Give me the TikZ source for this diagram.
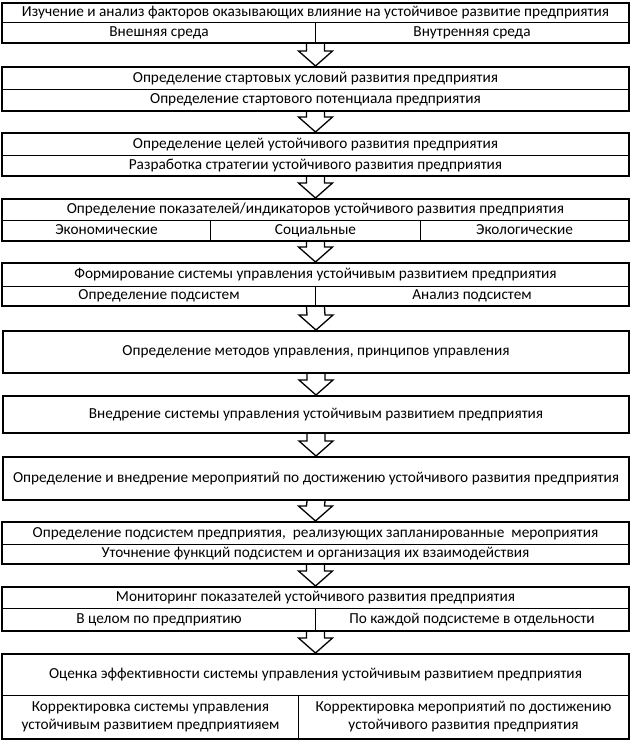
\documentclass[tikz,border=0pt]{standalone}
\usepackage{fontspec}
\setmainfont{Carlito}
\usetikzlibrary{calc, fit}

\begin{document}
\begin{tikzpicture}[
    x=1pt, y=-1pt,
    font=\fontsize{15.3}{18}\selectfont,
    cell/.style={draw, line width=1pt, inner sep=0pt, anchor=north west, align=center,
                 text height=10.5pt, text depth=3.5pt},
    twoline/.style={text height={}, text depth={}},
    frame/.style={draw, line width=2pt, inner sep=0pt},
    hollowarrow/.style={draw, line width=1.3pt, fill=white, line join=miter}
]
\useasboundingbox (0,0) rectangle (630,740);

% Factors
\node[cell, minimum width=626, minimum height=19] (study) at (2,3) {Изучение и анализ факторов оказывающих влияние на устойчивое развитие предприятия};
\node[cell, minimum width=313, minimum height=20] (external) at (2,22) {Внешняя среда};
\node[cell, minimum width=313, minimum height=20] (internal) at (315,22) {Внутренняя среда};
\node[frame, fit=(study)(external)(internal)] (factors) {};

% Starting conditions
\node[cell, minimum width=626, minimum height=22] (conditions) at (2,67) {Определение стартовых условий развития предприятия};
\node[cell, minimum width=626, minimum height=21] (potential) at (2,89) {Определение стартового потенциала предприятия};
\node[frame, fit=(conditions)(potential)] (start) {};

% Goals and strategy
\node[cell, minimum width=626, minimum height=22] (goaldef) at (2,133) {Определение целей устойчивого развития предприятия};
\node[cell, minimum width=626, minimum height=20] (strategy) at (2,155) {Разработка стратегии устойчивого развития предприятия};
\node[frame, fit=(goaldef)(strategy)] (goals) {};

% Indicators
\node[cell, minimum width=626, minimum height=21] (indicdef) at (2,199) {Определение показателей/индикаторов устойчивого развития предприятия};
\node[cell, minimum width=208, minimum height=20] (economic) at (2,220) {Экономические};
\node[cell, minimum width=210, minimum height=20] (social) at (210,220) {Социальные};
\node[cell, minimum width=208, minimum height=20] (ecologic) at (420,220) {Экологические};
\node[frame, fit=(indicdef)(economic)(ecologic)] (indicators) {};

% Management system
\node[cell, minimum width=626, minimum height=23] (forming) at (2,263) {Формирование системы управления устойчивым развитием предприятия};
\node[cell, minimum width=313, minimum height=19] (subdef) at (2,286) {Определение подсистем};
\node[cell, minimum width=313, minimum height=19] (subanalysis) at (315,286) {Анализ подсистем};
\node[frame, fit=(forming)(subdef)(subanalysis)] (system) {};

% Single-row stages
\node[cell, frame, minimum width=626, minimum height=42] (methods) at (2,330) {Определение методов управления, принципов управления};
\node[cell, frame, minimum width=626, minimum height=37] (deploy) at (2,395) {Внедрение системы управления устойчивым развитием предприятия};
\node[cell, frame, minimum width=626, minimum height=43] (measures) at (2,456) {Определение и внедрение мероприятий по достижению устойчивого развития предприятия};

% Subsystems
\node[cell, minimum width=626, minimum height=22] (subsys) at (2,522) {Определение подсистем предприятия, ~реализующих запланированные ~мероприятия};
\node[cell, minimum width=626, minimum height=19] (functions) at (2,544) {Уточнение функций подсистем и организация их взаимодействия};
\node[frame, fit=(subsys)(functions)] (subsystems) {};

% Monitoring
\node[cell, minimum width=626, minimum height=21] (monitor) at (2,587) {Мониторинг показателей устойчивого развития предприятия};
\node[cell, minimum width=313, minimum height=22] (overall) at (2,608) {В целом по предприятию};
\node[cell, minimum width=313, minimum height=22] (persub) at (315,608) {По каждой подсистеме в отдельности};
\node[frame, fit=(monitor)(overall)(persub)] (monitoring) {};

% Evaluation and correction
\node[cell, minimum width=626, minimum height=41] (efficiency) at (2,654) {Оценка эффективности системы управления устойчивым развитием предприятия};
\node[cell, twoline, minimum width=296, minimum height=43] (fixsystem) at (2,695) {Корректировка системы управления\\устойчивым развитием предприятияем};
\node[cell, twoline, minimum width=330, minimum height=43] (fixmeasures) at (298,695) {Корректировка мероприятий по достижению\\устойчивого развития предприятия};
\node[frame, fit=(efficiency)(fixsystem)(fixmeasures)] (evaluation) {};

% Hollow arrows between stages
\foreach \a/\b in {factors/start, start/goals, goals/indicators, indicators/system,
                   system/methods, methods/deploy, deploy/measures, measures/subsystems,
                   subsystems/monitoring, monitoring/evaluation}
  \draw[hollowarrow] ($(\a.south)+(-9,0)$) -- ($(\b.north)+(-9,-15)$) -- ($(\b.north)+(-17,-15)$)
    -- (\b.north) -- ($(\b.north)+(17,-15)$) -- ($(\b.north)+(9,-15)$) -- ($(\a.south)+(9,0)$);

\end{tikzpicture}
\end{document}
